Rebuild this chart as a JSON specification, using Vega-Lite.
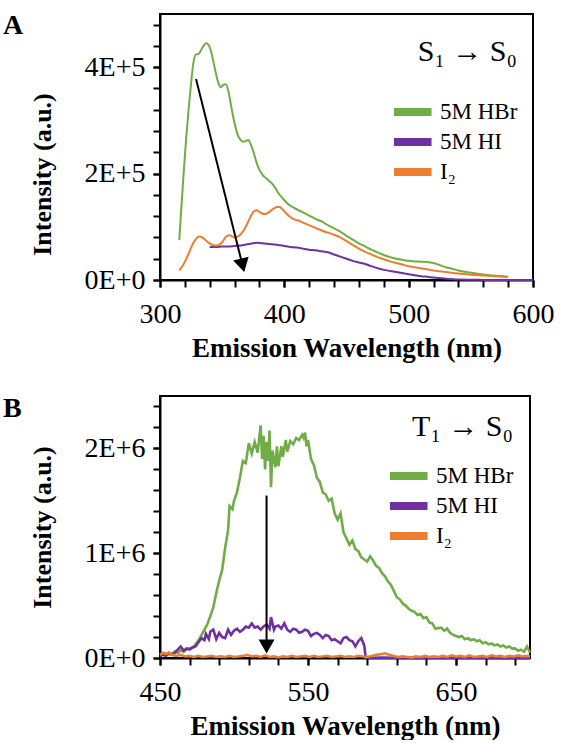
{
  "$schema": "https://vega.github.io/schema/vega-lite/v6.json",
  "background": "white",
  "padding": {"left": 2, "top": 11, "right": 2, "bottom": 0},
  "spacing": 32,
  "config": {
    "font": "Liberation Serif",
    "view": {"stroke": "black", "strokeWidth": 2},
    "axis": {
      "domainColor": "black", "domainWidth": 2, "tickColor": "black", "tickWidth": 2, "tickSize": 7,
      "grid": false, "labelFont": "Liberation Serif", "labelFontSize": 28, "labelColor": "black",
      "labelPadding": 8, "labelFlush": false, "labelOverlap": false,
      "titleFont": "Liberation Serif", "titleFontSize": 26, "titleFontWeight": "bold", "titleColor": "black"
    },
    "axisX": {"titlePadding": 7, "labelPadding": 13, "titleFontSize": 27},
    "axisY": {"titlePadding": 29},
    "legend": {
      "labelFont": "Liberation Serif", "labelFontSize": 23, "labelColor": "black",
      "titleFont": "Liberation Serif", "titleFontSize": 30, "titleFontWeight": "normal", "titleColor": "black",
      "titleAnchor": "end", "symbolType": "M-1.96,0H1.96", "symbolStrokeWidth": 8,
      "symbolSize": 506, "labelOffset": 15, "rowPadding": 0, "clipHeight": 30, "symbolOpacity": 1
    },
    "title": {"font": "Liberation Serif", "fontSize": 28, "fontWeight": "bold", "color": "black", "anchor": "start", "frame": "group"}
  },
  "datasets": {
    "a": [
      {"nm": 315.5, "intensity": 75000, "sample": "5M HBr"},
      {"nm": 317, "intensity": 130000, "sample": "5M HBr"},
      {"nm": 319, "intensity": 200000, "sample": "5M HBr"},
      {"nm": 321, "intensity": 265000, "sample": "5M HBr"},
      {"nm": 323, "intensity": 320000, "sample": "5M HBr"},
      {"nm": 325, "intensity": 370000, "sample": "5M HBr"},
      {"nm": 327, "intensity": 410000, "sample": "5M HBr"},
      {"nm": 329, "intensity": 424000, "sample": "5M HBr"},
      {"nm": 331, "intensity": 425000, "sample": "5M HBr"},
      {"nm": 333, "intensity": 432000, "sample": "5M HBr"},
      {"nm": 335, "intensity": 440000, "sample": "5M HBr"},
      {"nm": 337, "intensity": 445000, "sample": "5M HBr"},
      {"nm": 339, "intensity": 442000, "sample": "5M HBr"},
      {"nm": 341, "intensity": 430000, "sample": "5M HBr"},
      {"nm": 343, "intensity": 410000, "sample": "5M HBr"},
      {"nm": 345, "intensity": 388000, "sample": "5M HBr"},
      {"nm": 347, "intensity": 370000, "sample": "5M HBr"},
      {"nm": 349, "intensity": 362000, "sample": "5M HBr"},
      {"nm": 351, "intensity": 367000, "sample": "5M HBr"},
      {"nm": 353, "intensity": 368000, "sample": "5M HBr"},
      {"nm": 355, "intensity": 355000, "sample": "5M HBr"},
      {"nm": 357, "intensity": 330000, "sample": "5M HBr"},
      {"nm": 359, "intensity": 305000, "sample": "5M HBr"},
      {"nm": 361, "intensity": 285000, "sample": "5M HBr"},
      {"nm": 363, "intensity": 270000, "sample": "5M HBr"},
      {"nm": 365, "intensity": 263000, "sample": "5M HBr"},
      {"nm": 367, "intensity": 260000, "sample": "5M HBr"},
      {"nm": 369, "intensity": 261000, "sample": "5M HBr"},
      {"nm": 371, "intensity": 263000, "sample": "5M HBr"},
      {"nm": 373, "intensity": 255000, "sample": "5M HBr"},
      {"nm": 375, "intensity": 242000, "sample": "5M HBr"},
      {"nm": 377, "intensity": 226000, "sample": "5M HBr"},
      {"nm": 379, "intensity": 212000, "sample": "5M HBr"},
      {"nm": 381, "intensity": 203000, "sample": "5M HBr"},
      {"nm": 383, "intensity": 196000, "sample": "5M HBr"},
      {"nm": 385, "intensity": 192000, "sample": "5M HBr"},
      {"nm": 387, "intensity": 188000, "sample": "5M HBr"},
      {"nm": 389, "intensity": 184000, "sample": "5M HBr"},
      {"nm": 391, "intensity": 179000, "sample": "5M HBr"},
      {"nm": 393, "intensity": 172000, "sample": "5M HBr"},
      {"nm": 395, "intensity": 164000, "sample": "5M HBr"},
      {"nm": 397, "intensity": 158000, "sample": "5M HBr"},
      {"nm": 400, "intensity": 150000, "sample": "5M HBr"},
      {"nm": 403, "intensity": 143000, "sample": "5M HBr"},
      {"nm": 406, "intensity": 138000, "sample": "5M HBr"},
      {"nm": 410, "intensity": 133000, "sample": "5M HBr"},
      {"nm": 415, "intensity": 127000, "sample": "5M HBr"},
      {"nm": 420, "intensity": 121000, "sample": "5M HBr"},
      {"nm": 425, "intensity": 115000, "sample": "5M HBr"},
      {"nm": 430, "intensity": 110000, "sample": "5M HBr"},
      {"nm": 435, "intensity": 103000, "sample": "5M HBr"},
      {"nm": 440, "intensity": 97000, "sample": "5M HBr"},
      {"nm": 445, "intensity": 91000, "sample": "5M HBr"},
      {"nm": 450, "intensity": 83000, "sample": "5M HBr"},
      {"nm": 455, "intensity": 76000, "sample": "5M HBr"},
      {"nm": 460, "intensity": 69000, "sample": "5M HBr"},
      {"nm": 465, "intensity": 63000, "sample": "5M HBr"},
      {"nm": 470, "intensity": 57000, "sample": "5M HBr"},
      {"nm": 475, "intensity": 52000, "sample": "5M HBr"},
      {"nm": 480, "intensity": 47000, "sample": "5M HBr"},
      {"nm": 485, "intensity": 43000, "sample": "5M HBr"},
      {"nm": 490, "intensity": 40000, "sample": "5M HBr"},
      {"nm": 495, "intensity": 38000, "sample": "5M HBr"},
      {"nm": 500, "intensity": 36000, "sample": "5M HBr"},
      {"nm": 505, "intensity": 35000, "sample": "5M HBr"},
      {"nm": 510, "intensity": 34500, "sample": "5M HBr"},
      {"nm": 515, "intensity": 34000, "sample": "5M HBr"},
      {"nm": 520, "intensity": 32000, "sample": "5M HBr"},
      {"nm": 525, "intensity": 28000, "sample": "5M HBr"},
      {"nm": 530, "intensity": 24000, "sample": "5M HBr"},
      {"nm": 535, "intensity": 21000, "sample": "5M HBr"},
      {"nm": 540, "intensity": 18000, "sample": "5M HBr"},
      {"nm": 545, "intensity": 15500, "sample": "5M HBr"},
      {"nm": 550, "intensity": 13500, "sample": "5M HBr"},
      {"nm": 555, "intensity": 12000, "sample": "5M HBr"},
      {"nm": 560, "intensity": 10500, "sample": "5M HBr"},
      {"nm": 565, "intensity": 9000, "sample": "5M HBr"},
      {"nm": 570, "intensity": 8000, "sample": "5M HBr"},
      {"nm": 575, "intensity": 7000, "sample": "5M HBr"},
      {"nm": 580, "intensity": 6000, "sample": "5M HBr"},
      {"nm": 340, "intensity": 62000, "sample": "5M HI"},
      {"nm": 345, "intensity": 62000, "sample": "5M HI"},
      {"nm": 350, "intensity": 63000, "sample": "5M HI"},
      {"nm": 355, "intensity": 63000, "sample": "5M HI"},
      {"nm": 360, "intensity": 64000, "sample": "5M HI"},
      {"nm": 365, "intensity": 65000, "sample": "5M HI"},
      {"nm": 370, "intensity": 67000, "sample": "5M HI"},
      {"nm": 375, "intensity": 69000, "sample": "5M HI"},
      {"nm": 378, "intensity": 70000, "sample": "5M HI"},
      {"nm": 382, "intensity": 69000, "sample": "5M HI"},
      {"nm": 386, "intensity": 68000, "sample": "5M HI"},
      {"nm": 390, "intensity": 67000, "sample": "5M HI"},
      {"nm": 395, "intensity": 66000, "sample": "5M HI"},
      {"nm": 400, "intensity": 64000, "sample": "5M HI"},
      {"nm": 405, "intensity": 62000, "sample": "5M HI"},
      {"nm": 410, "intensity": 61000, "sample": "5M HI"},
      {"nm": 415, "intensity": 59000, "sample": "5M HI"},
      {"nm": 420, "intensity": 57000, "sample": "5M HI"},
      {"nm": 425, "intensity": 56000, "sample": "5M HI"},
      {"nm": 430, "intensity": 54000, "sample": "5M HI"},
      {"nm": 435, "intensity": 52000, "sample": "5M HI"},
      {"nm": 440, "intensity": 48000, "sample": "5M HI"},
      {"nm": 445, "intensity": 44000, "sample": "5M HI"},
      {"nm": 450, "intensity": 40000, "sample": "5M HI"},
      {"nm": 455, "intensity": 36000, "sample": "5M HI"},
      {"nm": 460, "intensity": 33000, "sample": "5M HI"},
      {"nm": 465, "intensity": 30000, "sample": "5M HI"},
      {"nm": 470, "intensity": 26000, "sample": "5M HI"},
      {"nm": 475, "intensity": 22000, "sample": "5M HI"},
      {"nm": 480, "intensity": 19000, "sample": "5M HI"},
      {"nm": 485, "intensity": 17000, "sample": "5M HI"},
      {"nm": 490, "intensity": 15000, "sample": "5M HI"},
      {"nm": 495, "intensity": 13000, "sample": "5M HI"},
      {"nm": 500, "intensity": 11000, "sample": "5M HI"},
      {"nm": 505, "intensity": 9000, "sample": "5M HI"},
      {"nm": 510, "intensity": 7000, "sample": "5M HI"},
      {"nm": 515, "intensity": 6000, "sample": "5M HI"},
      {"nm": 520, "intensity": 4500, "sample": "5M HI"},
      {"nm": 530, "intensity": 2500, "sample": "5M HI"},
      {"nm": 540, "intensity": 1000, "sample": "5M HI"},
      {"nm": 550, "intensity": 500, "sample": "5M HI"},
      {"nm": 560, "intensity": 200, "sample": "5M HI"},
      {"nm": 570, "intensity": 100, "sample": "5M HI"},
      {"nm": 580, "intensity": 50, "sample": "5M HI"},
      {"nm": 590, "intensity": 20, "sample": "5M HI"},
      {"nm": 600, "intensity": 0, "sample": "5M HI"},
      {"nm": 315.5, "intensity": 18000, "sample": "I₂"},
      {"nm": 318, "intensity": 26000, "sample": "I₂"},
      {"nm": 320, "intensity": 34000, "sample": "I₂"},
      {"nm": 322, "intensity": 44000, "sample": "I₂"},
      {"nm": 324, "intensity": 55000, "sample": "I₂"},
      {"nm": 326, "intensity": 66000, "sample": "I₂"},
      {"nm": 328, "intensity": 74000, "sample": "I₂"},
      {"nm": 330, "intensity": 80000, "sample": "I₂"},
      {"nm": 332, "intensity": 82000, "sample": "I₂"},
      {"nm": 334, "intensity": 80000, "sample": "I₂"},
      {"nm": 336, "intensity": 76000, "sample": "I₂"},
      {"nm": 338, "intensity": 72000, "sample": "I₂"},
      {"nm": 340, "intensity": 69000, "sample": "I₂"},
      {"nm": 342, "intensity": 66000, "sample": "I₂"},
      {"nm": 344, "intensity": 65000, "sample": "I₂"},
      {"nm": 346, "intensity": 65000, "sample": "I₂"},
      {"nm": 348, "intensity": 67000, "sample": "I₂"},
      {"nm": 350, "intensity": 71000, "sample": "I₂"},
      {"nm": 352, "intensity": 78000, "sample": "I₂"},
      {"nm": 354, "intensity": 83000, "sample": "I₂"},
      {"nm": 356, "intensity": 84000, "sample": "I₂"},
      {"nm": 358, "intensity": 82000, "sample": "I₂"},
      {"nm": 360, "intensity": 80000, "sample": "I₂"},
      {"nm": 362, "intensity": 81000, "sample": "I₂"},
      {"nm": 364, "intensity": 84000, "sample": "I₂"},
      {"nm": 366, "intensity": 89000, "sample": "I₂"},
      {"nm": 368, "intensity": 96000, "sample": "I₂"},
      {"nm": 370, "intensity": 105000, "sample": "I₂"},
      {"nm": 372, "intensity": 115000, "sample": "I₂"},
      {"nm": 374, "intensity": 124000, "sample": "I₂"},
      {"nm": 376, "intensity": 130000, "sample": "I₂"},
      {"nm": 378, "intensity": 131000, "sample": "I₂"},
      {"nm": 380, "intensity": 128000, "sample": "I₂"},
      {"nm": 382, "intensity": 125000, "sample": "I₂"},
      {"nm": 384, "intensity": 124000, "sample": "I₂"},
      {"nm": 386, "intensity": 125000, "sample": "I₂"},
      {"nm": 388, "intensity": 128000, "sample": "I₂"},
      {"nm": 390, "intensity": 132000, "sample": "I₂"},
      {"nm": 392, "intensity": 135000, "sample": "I₂"},
      {"nm": 394, "intensity": 137000, "sample": "I₂"},
      {"nm": 396, "intensity": 137000, "sample": "I₂"},
      {"nm": 398, "intensity": 134000, "sample": "I₂"},
      {"nm": 400, "intensity": 129000, "sample": "I₂"},
      {"nm": 402, "intensity": 124000, "sample": "I₂"},
      {"nm": 405, "intensity": 118000, "sample": "I₂"},
      {"nm": 408, "intensity": 114000, "sample": "I₂"},
      {"nm": 412, "intensity": 111000, "sample": "I₂"},
      {"nm": 416, "intensity": 107000, "sample": "I₂"},
      {"nm": 420, "intensity": 103000, "sample": "I₂"},
      {"nm": 425, "intensity": 98000, "sample": "I₂"},
      {"nm": 430, "intensity": 93000, "sample": "I₂"},
      {"nm": 435, "intensity": 89000, "sample": "I₂"},
      {"nm": 440, "intensity": 85000, "sample": "I₂"},
      {"nm": 445, "intensity": 80000, "sample": "I₂"},
      {"nm": 450, "intensity": 73000, "sample": "I₂"},
      {"nm": 455, "intensity": 66000, "sample": "I₂"},
      {"nm": 460, "intensity": 59000, "sample": "I₂"},
      {"nm": 465, "intensity": 53000, "sample": "I₂"},
      {"nm": 470, "intensity": 48000, "sample": "I₂"},
      {"nm": 475, "intensity": 43000, "sample": "I₂"},
      {"nm": 480, "intensity": 39000, "sample": "I₂"},
      {"nm": 485, "intensity": 35000, "sample": "I₂"},
      {"nm": 490, "intensity": 32000, "sample": "I₂"},
      {"nm": 495, "intensity": 29000, "sample": "I₂"},
      {"nm": 500, "intensity": 26000, "sample": "I₂"},
      {"nm": 505, "intensity": 24000, "sample": "I₂"},
      {"nm": 510, "intensity": 22000, "sample": "I₂"},
      {"nm": 515, "intensity": 20000, "sample": "I₂"},
      {"nm": 520, "intensity": 18000, "sample": "I₂"},
      {"nm": 530, "intensity": 15000, "sample": "I₂"},
      {"nm": 540, "intensity": 12000, "sample": "I₂"},
      {"nm": 550, "intensity": 10000, "sample": "I₂"},
      {"nm": 560, "intensity": 8500, "sample": "I₂"},
      {"nm": 570, "intensity": 7000, "sample": "I₂"},
      {"nm": 580, "intensity": 6000, "sample": "I₂"}
    ],
    "b": [
      {"nm": 450, "intensity": 30000, "sample": "5M HBr"},
      {"nm": 452, "intensity": 42000, "sample": "5M HBr"},
      {"nm": 454, "intensity": 28000, "sample": "5M HBr"},
      {"nm": 456, "intensity": 50000, "sample": "5M HBr"},
      {"nm": 458, "intensity": 38000, "sample": "5M HBr"},
      {"nm": 460, "intensity": 62000, "sample": "5M HBr"},
      {"nm": 462, "intensity": 48000, "sample": "5M HBr"},
      {"nm": 464, "intensity": 72000, "sample": "5M HBr"},
      {"nm": 466, "intensity": 58000, "sample": "5M HBr"},
      {"nm": 468, "intensity": 85000, "sample": "5M HBr"},
      {"nm": 470, "intensity": 92000, "sample": "5M HBr"},
      {"nm": 472, "intensity": 100000, "sample": "5M HBr"},
      {"nm": 474, "intensity": 130000, "sample": "5M HBr"},
      {"nm": 476, "intensity": 168000, "sample": "5M HBr"},
      {"nm": 478, "intensity": 218000, "sample": "5M HBr"},
      {"nm": 480, "intensity": 270000, "sample": "5M HBr"},
      {"nm": 482, "intensity": 322000, "sample": "5M HBr"},
      {"nm": 484, "intensity": 400000, "sample": "5M HBr"},
      {"nm": 486, "intensity": 482000, "sample": "5M HBr"},
      {"nm": 488, "intensity": 620000, "sample": "5M HBr"},
      {"nm": 490, "intensity": 738000, "sample": "5M HBr"},
      {"nm": 492, "intensity": 840000, "sample": "5M HBr"},
      {"nm": 494, "intensity": 1050000, "sample": "5M HBr"},
      {"nm": 496, "intensity": 1220000, "sample": "5M HBr"},
      {"nm": 497, "intensity": 1450000, "sample": "5M HBr"},
      {"nm": 499, "intensity": 1420000, "sample": "5M HBr"},
      {"nm": 500, "intensity": 1500000, "sample": "5M HBr"},
      {"nm": 502, "intensity": 1580000, "sample": "5M HBr"},
      {"nm": 504, "intensity": 1720000, "sample": "5M HBr"},
      {"nm": 506, "intensity": 1880000, "sample": "5M HBr"},
      {"nm": 508, "intensity": 1860000, "sample": "5M HBr"},
      {"nm": 510, "intensity": 2050000, "sample": "5M HBr"},
      {"nm": 512, "intensity": 1950000, "sample": "5M HBr"},
      {"nm": 514, "intensity": 2060000, "sample": "5M HBr"},
      {"nm": 516, "intensity": 1960000, "sample": "5M HBr"},
      {"nm": 518, "intensity": 2220000, "sample": "5M HBr"},
      {"nm": 519, "intensity": 1900000, "sample": "5M HBr"},
      {"nm": 520, "intensity": 2120000, "sample": "5M HBr"},
      {"nm": 521, "intensity": 1800000, "sample": "5M HBr"},
      {"nm": 522, "intensity": 2060000, "sample": "5M HBr"},
      {"nm": 523, "intensity": 1880000, "sample": "5M HBr"},
      {"nm": 524, "intensity": 2170000, "sample": "5M HBr"},
      {"nm": 525, "intensity": 1630000, "sample": "5M HBr"},
      {"nm": 526, "intensity": 1980000, "sample": "5M HBr"},
      {"nm": 528, "intensity": 1820000, "sample": "5M HBr"},
      {"nm": 529, "intensity": 2020000, "sample": "5M HBr"},
      {"nm": 530, "intensity": 1830000, "sample": "5M HBr"},
      {"nm": 532, "intensity": 2020000, "sample": "5M HBr"},
      {"nm": 533, "intensity": 1920000, "sample": "5M HBr"},
      {"nm": 535, "intensity": 2080000, "sample": "5M HBr"},
      {"nm": 536, "intensity": 1970000, "sample": "5M HBr"},
      {"nm": 538, "intensity": 2070000, "sample": "5M HBr"},
      {"nm": 540, "intensity": 2040000, "sample": "5M HBr"},
      {"nm": 542, "intensity": 2100000, "sample": "5M HBr"},
      {"nm": 544, "intensity": 2080000, "sample": "5M HBr"},
      {"nm": 546, "intensity": 2130000, "sample": "5M HBr"},
      {"nm": 547, "intensity": 2100000, "sample": "5M HBr"},
      {"nm": 548, "intensity": 2150000, "sample": "5M HBr"},
      {"nm": 549, "intensity": 2020000, "sample": "5M HBr"},
      {"nm": 550, "intensity": 2080000, "sample": "5M HBr"},
      {"nm": 552, "intensity": 1900000, "sample": "5M HBr"},
      {"nm": 554, "intensity": 1840000, "sample": "5M HBr"},
      {"nm": 556, "intensity": 1720000, "sample": "5M HBr"},
      {"nm": 558, "intensity": 1680000, "sample": "5M HBr"},
      {"nm": 560, "intensity": 1580000, "sample": "5M HBr"},
      {"nm": 562, "intensity": 1560000, "sample": "5M HBr"},
      {"nm": 564, "intensity": 1500000, "sample": "5M HBr"},
      {"nm": 566, "intensity": 1520000, "sample": "5M HBr"},
      {"nm": 568, "intensity": 1380000, "sample": "5M HBr"},
      {"nm": 570, "intensity": 1320000, "sample": "5M HBr"},
      {"nm": 572, "intensity": 1380000, "sample": "5M HBr"},
      {"nm": 574, "intensity": 1200000, "sample": "5M HBr"},
      {"nm": 576, "intensity": 1140000, "sample": "5M HBr"},
      {"nm": 578, "intensity": 1080000, "sample": "5M HBr"},
      {"nm": 580, "intensity": 1120000, "sample": "5M HBr"},
      {"nm": 582, "intensity": 1040000, "sample": "5M HBr"},
      {"nm": 584, "intensity": 1020000, "sample": "5M HBr"},
      {"nm": 586, "intensity": 960000, "sample": "5M HBr"},
      {"nm": 588, "intensity": 940000, "sample": "5M HBr"},
      {"nm": 590, "intensity": 920000, "sample": "5M HBr"},
      {"nm": 592, "intensity": 970000, "sample": "5M HBr"},
      {"nm": 594, "intensity": 930000, "sample": "5M HBr"},
      {"nm": 596, "intensity": 880000, "sample": "5M HBr"},
      {"nm": 598, "intensity": 860000, "sample": "5M HBr"},
      {"nm": 600, "intensity": 810000, "sample": "5M HBr"},
      {"nm": 602, "intensity": 780000, "sample": "5M HBr"},
      {"nm": 604, "intensity": 730000, "sample": "5M HBr"},
      {"nm": 606, "intensity": 700000, "sample": "5M HBr"},
      {"nm": 608, "intensity": 640000, "sample": "5M HBr"},
      {"nm": 610, "intensity": 580000, "sample": "5M HBr"},
      {"nm": 612, "intensity": 560000, "sample": "5M HBr"},
      {"nm": 614, "intensity": 520000, "sample": "5M HBr"},
      {"nm": 616, "intensity": 500000, "sample": "5M HBr"},
      {"nm": 618, "intensity": 470000, "sample": "5M HBr"},
      {"nm": 620, "intensity": 450000, "sample": "5M HBr"},
      {"nm": 622, "intensity": 440000, "sample": "5M HBr"},
      {"nm": 624, "intensity": 410000, "sample": "5M HBr"},
      {"nm": 626, "intensity": 420000, "sample": "5M HBr"},
      {"nm": 628, "intensity": 380000, "sample": "5M HBr"},
      {"nm": 630, "intensity": 390000, "sample": "5M HBr"},
      {"nm": 632, "intensity": 340000, "sample": "5M HBr"},
      {"nm": 634, "intensity": 330000, "sample": "5M HBr"},
      {"nm": 636, "intensity": 280000, "sample": "5M HBr"},
      {"nm": 638, "intensity": 285000, "sample": "5M HBr"},
      {"nm": 640, "intensity": 290000, "sample": "5M HBr"},
      {"nm": 642, "intensity": 260000, "sample": "5M HBr"},
      {"nm": 644, "intensity": 280000, "sample": "5M HBr"},
      {"nm": 646, "intensity": 240000, "sample": "5M HBr"},
      {"nm": 648, "intensity": 220000, "sample": "5M HBr"},
      {"nm": 650, "intensity": 210000, "sample": "5M HBr"},
      {"nm": 652, "intensity": 200000, "sample": "5M HBr"},
      {"nm": 654, "intensity": 210000, "sample": "5M HBr"},
      {"nm": 656, "intensity": 180000, "sample": "5M HBr"},
      {"nm": 658, "intensity": 190000, "sample": "5M HBr"},
      {"nm": 660, "intensity": 170000, "sample": "5M HBr"},
      {"nm": 662, "intensity": 180000, "sample": "5M HBr"},
      {"nm": 664, "intensity": 160000, "sample": "5M HBr"},
      {"nm": 666, "intensity": 170000, "sample": "5M HBr"},
      {"nm": 668, "intensity": 140000, "sample": "5M HBr"},
      {"nm": 670, "intensity": 150000, "sample": "5M HBr"},
      {"nm": 672, "intensity": 130000, "sample": "5M HBr"},
      {"nm": 674, "intensity": 140000, "sample": "5M HBr"},
      {"nm": 676, "intensity": 120000, "sample": "5M HBr"},
      {"nm": 678, "intensity": 130000, "sample": "5M HBr"},
      {"nm": 680, "intensity": 110000, "sample": "5M HBr"},
      {"nm": 682, "intensity": 120000, "sample": "5M HBr"},
      {"nm": 684, "intensity": 100000, "sample": "5M HBr"},
      {"nm": 686, "intensity": 110000, "sample": "5M HBr"},
      {"nm": 688, "intensity": 90000, "sample": "5M HBr"},
      {"nm": 690, "intensity": 92000, "sample": "5M HBr"},
      {"nm": 692, "intensity": 70000, "sample": "5M HBr"},
      {"nm": 694, "intensity": 80000, "sample": "5M HBr"},
      {"nm": 696, "intensity": 60000, "sample": "5M HBr"},
      {"nm": 698, "intensity": 110000, "sample": "5M HBr"},
      {"nm": 700, "intensity": 50000, "sample": "5M HBr"},
      {"nm": 450, "intensity": 20000, "sample": "5M HI"},
      {"nm": 452, "intensity": 30000, "sample": "5M HI"},
      {"nm": 454, "intensity": 20000, "sample": "5M HI"},
      {"nm": 456, "intensity": 40000, "sample": "5M HI"},
      {"nm": 458, "intensity": 30000, "sample": "5M HI"},
      {"nm": 460, "intensity": 50000, "sample": "5M HI"},
      {"nm": 462, "intensity": 80000, "sample": "5M HI"},
      {"nm": 464, "intensity": 110000, "sample": "5M HI"},
      {"nm": 466, "intensity": 70000, "sample": "5M HI"},
      {"nm": 468, "intensity": 90000, "sample": "5M HI"},
      {"nm": 470, "intensity": 80000, "sample": "5M HI"},
      {"nm": 472, "intensity": 100000, "sample": "5M HI"},
      {"nm": 474, "intensity": 110000, "sample": "5M HI"},
      {"nm": 476, "intensity": 150000, "sample": "5M HI"},
      {"nm": 478, "intensity": 190000, "sample": "5M HI"},
      {"nm": 480, "intensity": 170000, "sample": "5M HI"},
      {"nm": 481, "intensity": 230000, "sample": "5M HI"},
      {"nm": 483, "intensity": 180000, "sample": "5M HI"},
      {"nm": 484, "intensity": 250000, "sample": "5M HI"},
      {"nm": 486, "intensity": 270000, "sample": "5M HI"},
      {"nm": 488, "intensity": 180000, "sample": "5M HI"},
      {"nm": 490, "intensity": 240000, "sample": "5M HI"},
      {"nm": 492, "intensity": 200000, "sample": "5M HI"},
      {"nm": 494, "intensity": 190000, "sample": "5M HI"},
      {"nm": 496, "intensity": 270000, "sample": "5M HI"},
      {"nm": 498, "intensity": 220000, "sample": "5M HI"},
      {"nm": 500, "intensity": 260000, "sample": "5M HI"},
      {"nm": 502, "intensity": 280000, "sample": "5M HI"},
      {"nm": 504, "intensity": 250000, "sample": "5M HI"},
      {"nm": 506, "intensity": 270000, "sample": "5M HI"},
      {"nm": 508, "intensity": 300000, "sample": "5M HI"},
      {"nm": 510, "intensity": 290000, "sample": "5M HI"},
      {"nm": 512, "intensity": 330000, "sample": "5M HI"},
      {"nm": 514, "intensity": 290000, "sample": "5M HI"},
      {"nm": 516, "intensity": 300000, "sample": "5M HI"},
      {"nm": 518, "intensity": 270000, "sample": "5M HI"},
      {"nm": 520, "intensity": 300000, "sample": "5M HI"},
      {"nm": 522, "intensity": 320000, "sample": "5M HI"},
      {"nm": 524, "intensity": 280000, "sample": "5M HI"},
      {"nm": 525, "intensity": 390000, "sample": "5M HI"},
      {"nm": 527, "intensity": 270000, "sample": "5M HI"},
      {"nm": 528, "intensity": 300000, "sample": "5M HI"},
      {"nm": 530, "intensity": 310000, "sample": "5M HI"},
      {"nm": 532, "intensity": 280000, "sample": "5M HI"},
      {"nm": 534, "intensity": 330000, "sample": "5M HI"},
      {"nm": 536, "intensity": 270000, "sample": "5M HI"},
      {"nm": 538, "intensity": 250000, "sample": "5M HI"},
      {"nm": 540, "intensity": 280000, "sample": "5M HI"},
      {"nm": 542, "intensity": 270000, "sample": "5M HI"},
      {"nm": 544, "intensity": 240000, "sample": "5M HI"},
      {"nm": 546, "intensity": 250000, "sample": "5M HI"},
      {"nm": 548, "intensity": 270000, "sample": "5M HI"},
      {"nm": 550, "intensity": 260000, "sample": "5M HI"},
      {"nm": 552, "intensity": 210000, "sample": "5M HI"},
      {"nm": 554, "intensity": 230000, "sample": "5M HI"},
      {"nm": 556, "intensity": 240000, "sample": "5M HI"},
      {"nm": 558, "intensity": 220000, "sample": "5M HI"},
      {"nm": 560, "intensity": 190000, "sample": "5M HI"},
      {"nm": 562, "intensity": 220000, "sample": "5M HI"},
      {"nm": 564, "intensity": 210000, "sample": "5M HI"},
      {"nm": 566, "intensity": 170000, "sample": "5M HI"},
      {"nm": 568, "intensity": 180000, "sample": "5M HI"},
      {"nm": 570, "intensity": 160000, "sample": "5M HI"},
      {"nm": 572, "intensity": 140000, "sample": "5M HI"},
      {"nm": 574, "intensity": 190000, "sample": "5M HI"},
      {"nm": 576, "intensity": 200000, "sample": "5M HI"},
      {"nm": 578, "intensity": 170000, "sample": "5M HI"},
      {"nm": 580, "intensity": 160000, "sample": "5M HI"},
      {"nm": 582, "intensity": 110000, "sample": "5M HI"},
      {"nm": 584, "intensity": 160000, "sample": "5M HI"},
      {"nm": 586, "intensity": 190000, "sample": "5M HI"},
      {"nm": 588, "intensity": 120000, "sample": "5M HI"},
      {"nm": 589, "intensity": 0, "sample": "5M HI"},
      {"nm": 600, "intensity": 5000, "sample": "5M HI"},
      {"nm": 620, "intensity": 0, "sample": "5M HI"},
      {"nm": 650, "intensity": 5000, "sample": "5M HI"},
      {"nm": 680, "intensity": 0, "sample": "5M HI"},
      {"nm": 700, "intensity": 3000, "sample": "5M HI"},
      {"nm": 450, "intensity": 30000, "sample": "I₂"},
      {"nm": 452, "intensity": 50000, "sample": "I₂"},
      {"nm": 454, "intensity": 40000, "sample": "I₂"},
      {"nm": 456, "intensity": 50000, "sample": "I₂"},
      {"nm": 458, "intensity": 30000, "sample": "I₂"},
      {"nm": 461, "intensity": 20000, "sample": "I₂"},
      {"nm": 464, "intensity": 30000, "sample": "I₂"},
      {"nm": 467, "intensity": 15000, "sample": "I₂"},
      {"nm": 470, "intensity": 20000, "sample": "I₂"},
      {"nm": 473, "intensity": 10000, "sample": "I₂"},
      {"nm": 476, "intensity": 20000, "sample": "I₂"},
      {"nm": 479, "intensity": 10000, "sample": "I₂"},
      {"nm": 482, "intensity": 15000, "sample": "I₂"},
      {"nm": 485, "intensity": 20000, "sample": "I₂"},
      {"nm": 488, "intensity": 10000, "sample": "I₂"},
      {"nm": 491, "intensity": 15000, "sample": "I₂"},
      {"nm": 494, "intensity": 10000, "sample": "I₂"},
      {"nm": 497, "intensity": 20000, "sample": "I₂"},
      {"nm": 500, "intensity": 10000, "sample": "I₂"},
      {"nm": 503, "intensity": 15000, "sample": "I₂"},
      {"nm": 506, "intensity": 20000, "sample": "I₂"},
      {"nm": 509, "intensity": 30000, "sample": "I₂"},
      {"nm": 512, "intensity": 15000, "sample": "I₂"},
      {"nm": 515, "intensity": 20000, "sample": "I₂"},
      {"nm": 518, "intensity": 10000, "sample": "I₂"},
      {"nm": 521, "intensity": 25000, "sample": "I₂"},
      {"nm": 524, "intensity": 10000, "sample": "I₂"},
      {"nm": 527, "intensity": 15000, "sample": "I₂"},
      {"nm": 530, "intensity": 5000, "sample": "I₂"},
      {"nm": 533, "intensity": 15000, "sample": "I₂"},
      {"nm": 536, "intensity": 10000, "sample": "I₂"},
      {"nm": 539, "intensity": 20000, "sample": "I₂"},
      {"nm": 542, "intensity": 10000, "sample": "I₂"},
      {"nm": 545, "intensity": 15000, "sample": "I₂"},
      {"nm": 548, "intensity": 20000, "sample": "I₂"},
      {"nm": 551, "intensity": 10000, "sample": "I₂"},
      {"nm": 554, "intensity": 20000, "sample": "I₂"},
      {"nm": 557, "intensity": 10000, "sample": "I₂"},
      {"nm": 560, "intensity": 15000, "sample": "I₂"},
      {"nm": 563, "intensity": 20000, "sample": "I₂"},
      {"nm": 566, "intensity": 10000, "sample": "I₂"},
      {"nm": 569, "intensity": 15000, "sample": "I₂"},
      {"nm": 572, "intensity": 20000, "sample": "I₂"},
      {"nm": 575, "intensity": 10000, "sample": "I₂"},
      {"nm": 578, "intensity": 15000, "sample": "I₂"},
      {"nm": 581, "intensity": 10000, "sample": "I₂"},
      {"nm": 584, "intensity": 20000, "sample": "I₂"},
      {"nm": 587, "intensity": 15000, "sample": "I₂"},
      {"nm": 590, "intensity": 10000, "sample": "I₂"},
      {"nm": 593, "intensity": 20000, "sample": "I₂"},
      {"nm": 596, "intensity": 30000, "sample": "I₂"},
      {"nm": 599, "intensity": 35000, "sample": "I₂"},
      {"nm": 602, "intensity": 45000, "sample": "I₂"},
      {"nm": 605, "intensity": 30000, "sample": "I₂"},
      {"nm": 608, "intensity": 20000, "sample": "I₂"},
      {"nm": 611, "intensity": 10000, "sample": "I₂"},
      {"nm": 614, "intensity": 15000, "sample": "I₂"},
      {"nm": 617, "intensity": 10000, "sample": "I₂"},
      {"nm": 620, "intensity": 5000, "sample": "I₂"},
      {"nm": 623, "intensity": 15000, "sample": "I₂"},
      {"nm": 626, "intensity": 10000, "sample": "I₂"},
      {"nm": 629, "intensity": 20000, "sample": "I₂"},
      {"nm": 632, "intensity": 10000, "sample": "I₂"},
      {"nm": 635, "intensity": 15000, "sample": "I₂"},
      {"nm": 638, "intensity": 10000, "sample": "I₂"},
      {"nm": 641, "intensity": 20000, "sample": "I₂"},
      {"nm": 644, "intensity": 10000, "sample": "I₂"},
      {"nm": 647, "intensity": 25000, "sample": "I₂"},
      {"nm": 650, "intensity": 15000, "sample": "I₂"},
      {"nm": 653, "intensity": 20000, "sample": "I₂"},
      {"nm": 656, "intensity": 10000, "sample": "I₂"},
      {"nm": 659, "intensity": 25000, "sample": "I₂"},
      {"nm": 662, "intensity": 10000, "sample": "I₂"},
      {"nm": 665, "intensity": 15000, "sample": "I₂"},
      {"nm": 668, "intensity": 20000, "sample": "I₂"},
      {"nm": 671, "intensity": 10000, "sample": "I₂"},
      {"nm": 674, "intensity": 25000, "sample": "I₂"},
      {"nm": 677, "intensity": 15000, "sample": "I₂"},
      {"nm": 680, "intensity": 20000, "sample": "I₂"},
      {"nm": 683, "intensity": 10000, "sample": "I₂"},
      {"nm": 686, "intensity": 20000, "sample": "I₂"},
      {"nm": 689, "intensity": 15000, "sample": "I₂"},
      {"nm": 692, "intensity": 25000, "sample": "I₂"},
      {"nm": 695, "intensity": 15000, "sample": "I₂"},
      {"nm": 698, "intensity": 20000, "sample": "I₂"},
      {"nm": 700, "intensity": 15000, "sample": "I₂"}
    ],
    "arrA": [{"x1": 329, "y1": 378000, "x2": 366.4, "y2": 27600}],
    "arrB": [{"x1": 522, "y1": 1550000, "x2": 522, "y2": 110000}]
  },
  "vconcat": [
    {
      "width": 373,
      "height": 266,
      "title": {"text": "A", "dx": -157, "dy": 28, "offset": 2},
      "resolve": {"axis": {"x": "independent", "y": "independent"}},
      "layer": [
        {
          "data": {"name": "a"},
          "mark": {"type": "line", "strokeWidth": 2, "interpolate": "monotone"},
          "encoding": {
            "x": {"field": "nm", "type": "quantitative",
              "scale": {"domain": [300, 600], "nice": false, "zero": false},
              "axis": {"orient": "bottom", "title": null, "labels": false,
                "values": [300,320,340,360,380,400,420,440,460,480,500,520,540,560,580,600]}},
            "y": {"field": "intensity", "type": "quantitative",
              "scale": {"domain": [0, 500000], "nice": false},
              "axis": {"orient": "left", "title": null, "labels": false,
                "values": [0,40000,80000,120000,160000,200000,240000,280000,320000,360000,400000,440000,480000]}},
            "color": {"field": "sample", "type": "nominal",
              "scale": {"domain": ["5M HBr", "5M HI", "I₂"], "range": ["#70AD47", "#7030A0", "#ED7D31"]},
              "legend": {"title": "S₁ → S₀", "orient": "none", "legendX": 234, "legendY": 23, "titlePadding": 30}}
          }
        },
        {
          "data": {"name": "arrA"},
          "mark": {"type": "rule", "strokeWidth": 2, "color": "black"},
          "encoding": {
            "x": {"field": "x1", "type": "quantitative",
              "axis": {"orient": "bottom", "title": "Emission Wavelength (nm)", "domain": false,
                "values": [300, 400, 500, 600]}},
            "y": {"field": "y1", "type": "quantitative",
              "axis": {"orient": "left", "title": "Intensity (a.u.)", "titleY": 160, "domain": false,
                "values": [0, 200000, 400000],
                "labelExpr": "datum.value == 0 ? '0E+0' : (datum.value / 100000) + 'E+5'"}},
            "x2": {"field": "x2"},
            "y2": {"field": "y2"}
          }
        },
        {
          "data": {"name": "arrA"},
          "mark": {"type": "point", "shape": "triangle-down", "filled": true, "color": "black", "opacity": 1, "size": 256, "angle": 346},
          "encoding": {
            "x": {"field": "x2", "type": "quantitative", "axis": null},
            "y": {"field": "y2", "type": "quantitative", "axis": null}
          }
        }
      ]
    },
    {
      "width": 370,
      "height": 262,
      "title": {"text": "B", "dx": -157, "dy": 29, "offset": 2},
      "resolve": {"axis": {"x": "independent", "y": "independent"}},
      "layer": [
        {
          "data": {"name": "b"},
          "mark": {"type": "line", "strokeWidth": 2.6},
          "encoding": {
            "x": {"field": "nm", "type": "quantitative",
              "scale": {"domain": [450, 700], "nice": false, "zero": false},
              "axis": {"orient": "bottom", "title": null, "labels": false,
                "values": [450,470,490,510,530,550,570,590,610,630,650,670,690]}},
            "y": {"field": "intensity", "type": "quantitative",
              "scale": {"domain": [0, 2500000], "nice": false},
              "axis": {"orient": "left", "title": null, "labels": false,
                "values": [0,200000,400000,600000,800000,1000000,1200000,1400000,1600000,1800000,2000000,2200000,2400000]}},
            "color": {"field": "sample", "type": "nominal",
              "scale": {"domain": ["5M HBr", "5M HI", "I₂"], "range": ["#70AD47", "#7030A0", "#ED7D31"]},
              "legend": {"title": "T₁ → S₀", "orient": "none", "legendX": 230, "legendY": 16, "titlePadding": 19}}
          }
        },
        {
          "data": {"name": "arrB"},
          "mark": {"type": "rule", "strokeWidth": 2, "color": "black"},
          "encoding": {
            "x": {"field": "x1", "type": "quantitative",
              "axis": {"orient": "bottom", "title": "Emission Wavelength (nm)", "domain": false,
                "values": [450, 550, 650]}},
            "y": {"field": "y1", "type": "quantitative",
              "axis": {"orient": "left", "title": "Intensity (a.u.)", "domain": false,
                "values": [0, 1000000, 2000000],
                "labelExpr": "datum.value == 0 ? '0E+0' : (datum.value / 1000000) + 'E+6'"}},
            "x2": {"field": "x2"},
            "y2": {"field": "y2"}
          }
        },
        {
          "data": {"name": "arrB"},
          "mark": {"type": "point", "shape": "triangle-down", "filled": true, "color": "black", "opacity": 1, "size": 256},
          "encoding": {
            "x": {"field": "x2", "type": "quantitative", "axis": null},
            "y": {"field": "y2", "type": "quantitative", "axis": null}
          }
        }
      ]
    }
  ],
  "resolve": {"scale": {"color": "independent"}}
}
